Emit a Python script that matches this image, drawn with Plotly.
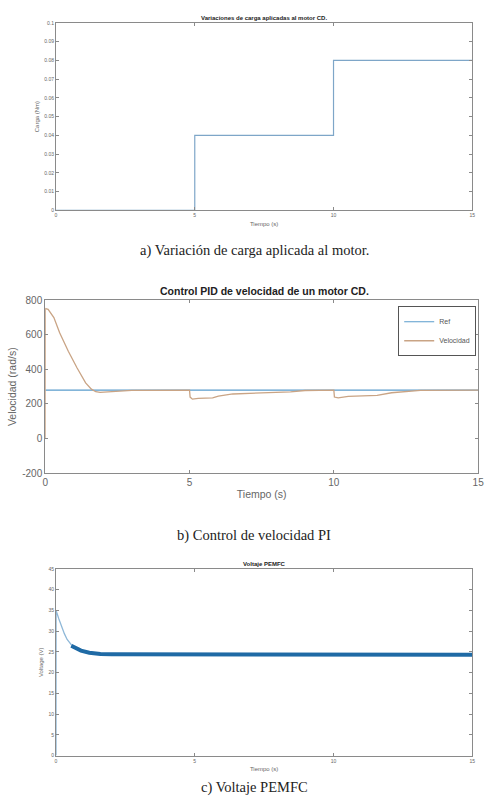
import plotly.graph_objects as go

W, H = 493, 808

# ---- Data ----
# a) Load variation
load_t = [0, 5, 10, 15]
load_nm = [0.0, 0.04, 0.08, 0.08]

# b) Speed control
ref_t = [0, 15]
ref_speed = [280, 280]
vel_t = [0, 0.005, 0.1, 0.3, 0.5, 0.8, 1.1, 1.4, 1.6, 1.75, 1.9, 2.2, 2.6, 3.0, 5.0,
         5.02, 5.1, 5.3, 5.8, 6.0, 6.5, 7.5, 8.5, 9.0, 10.0,
         10.02, 10.15, 10.5, 11.5, 12.0, 13.0, 15.0]
vel_speed = [0, 752, 748, 700, 612, 505, 410, 322, 286, 271, 267, 270, 276, 279, 280,
             240, 228, 233, 236, 245, 258, 262, 270, 278, 280,
             240, 235, 244, 250, 265, 279, 280]

# c) PEMFC voltage
volt_t = [0, 0.002, 0.1, 0.2, 0.3, 0.4, 0.5, 0.6, 0.9, 1.2, 1.6, 2.0, 5.0, 5.3, 15.0]
volt_v = [0, 35.0, 33.0, 31.0, 29.4, 28.0, 27.0, 26.3, 25.3, 24.8, 24.5, 24.45, 24.45, 24.3, 24.3]
steady_t = [0.55, 0.6, 0.9, 1.2, 1.6, 2.0, 5.0, 5.3, 15.0]
steady_v = [26.5, 26.3, 25.3, 24.8, 24.5, 24.45, 24.45, 24.3, 24.3]


def px_x(p):
    return p / W


def px_y(p):
    return 1 - p / H


fig = go.Figure()

axis_gray = "#8a8a8a"
tick_gray = "#666666"

fig.add_trace(go.Scatter(x=load_t, y=load_nm, mode="lines", line=dict(color="#7ea6c8", width=1.2, shape="hv"),
                         xaxis="x", yaxis="y", showlegend=False))
fig.add_trace(go.Scatter(x=ref_t, y=ref_speed, mode="lines", name="Ref",
                         line=dict(color="#5a9ccc", width=1.2), xaxis="x2", yaxis="y2"))
fig.add_trace(go.Scatter(x=vel_t, y=vel_speed, mode="lines", name="Velocidad",
                         line=dict(color="#c9a485", width=1.3), xaxis="x2", yaxis="y2"))
fig.add_trace(go.Scatter(x=volt_t, y=volt_v, mode="lines", line=dict(color="#8fb8d8", width=1.3),
                         xaxis="x3", yaxis="y3", showlegend=False))
fig.add_trace(go.Scatter(x=steady_t, y=steady_v, mode="lines", line=dict(color="#1f6aa5", width=4),
                         xaxis="x3", yaxis="y3", showlegend=False))


def ax(domain, anchor, rng, tickvals, ticktext, size, title, tsize, standoff):
    return dict(domain=domain, anchor=anchor, range=rng, tickvals=tickvals, ticktext=ticktext,
                showgrid=False, zeroline=False, showline=True, linecolor=axis_gray, linewidth=1,
                mirror="ticks", ticks="inside", ticklen=3, tickcolor=axis_gray,
                tickfont=dict(size=size, color=tick_gray, family="Liberation Sans"),
                title=dict(text=title, font=dict(size=tsize, color=tick_gray, family="Liberation Sans"),
                           standoff=standoff))


xa = [0, 5, 10, 15]
ya = [i / 100 for i in range(11)]
yat = ["0"] + [f"{v:.2f}" for v in ya[1:-1]] + ["0.1"]
yb = [-200, 0, 200, 400, 600, 800]
yc = list(range(0, 50, 5))

fig.update_layout(
    width=W, height=H, margin=dict(l=0, r=0, t=0, b=0),
    paper_bgcolor="white", plot_bgcolor="white",
    xaxis=ax([px_x(54), px_x(478)], "y", [0, 15], xa, [str(v) for v in xa], 5, "Tiempo (s)", 6, 4),
    yaxis=ax([px_y(208), px_y(18)], "x", [0, 0.1], ya, yat, 5, "Carga (Nm)", 6, 4),
    xaxis2=ax([px_x(43), px_x(484)], "y2", [0, 15], xa, [str(v) for v in xa], 10, "Tiempo (s)", 10.5, 3),
    yaxis2=ax([px_y(474), px_y(299)], "x2", [-200, 800], yb, [str(v) for v in yb], 10, "Velocidad (rad/s)", 10.5, 3),
    xaxis3=ax([px_x(54), px_x(478)], "y3", [0, 15], xa, [str(v) for v in xa], 5, "Tiempo (s)", 6, 4),
    yaxis3=ax([px_y(760), px_y(571)], "x3", [0, 45], yc, [str(v) for v in yc], 5, "Voltage (V)", 6, 4),
    legend=dict(x=px_x(482), y=px_y(305), xanchor="right", yanchor="top", bgcolor="white",
                bordercolor="#555555", borderwidth=1, font=dict(size=7, color="#555555", family="Liberation Sans"),
                tracegroupgap=0, itemwidth=30),
    showlegend=True,
)

titles = [
    ("Variaciones de carga aplicadas al motor CD.", 266, 13, 6),
    ("Control PID de velocidad de un motor CD.", 266, 290, 10.5),
    ("Voltaje PEMFC", 266, 566, 6),
]
for text, x, y, s in titles:
    fig.add_annotation(text=f"<b>{text}</b>", x=px_x(x), y=px_y(y), xref="paper", yref="paper",
                       showarrow=False, font=dict(size=s, color="#222222", family="Liberation Sans"),
                       xanchor="center", yanchor="middle")

captions = [
    ("a) Variación de carga aplicada al motor.", 256, 249),
    ("b) Control de velocidad PI", 256, 537),
    ("c) Voltaje PEMFC", 256, 792),
]
for text, x, y in captions:
    fig.add_annotation(text=text, x=px_x(x), y=px_y(y), xref="paper", yref="paper",
                       showarrow=False, font=dict(size=14.5, color="#222222", family="Liberation Serif"),
                       xanchor="center", yanchor="middle")

fig.write_html("out.html", config={"displayModeBar": False},
               post_script="document.body.style.margin='0';document.body.style.overflow='hidden';")
